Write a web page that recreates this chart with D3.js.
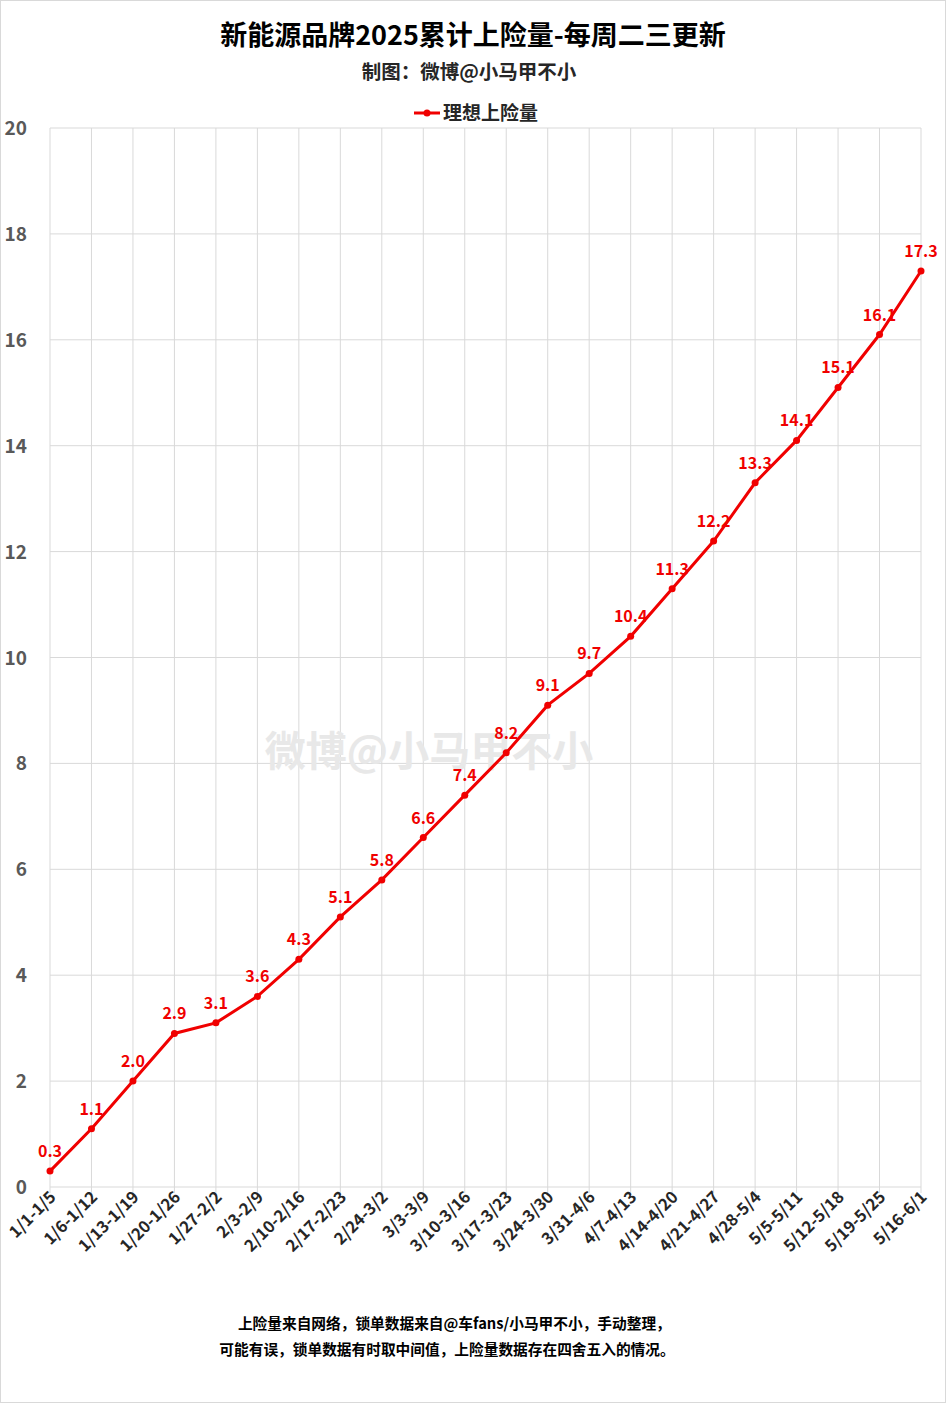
<!DOCTYPE html>
<html><head><meta charset="utf-8">
<script src="https://cdn.jsdelivr.net/npm/d3@7"></script>
<style>body{margin:0;background:#fff}svg{display:block}text{font-family:"Noto Sans CJK SC","Noto Sans",sans-serif}</style>
</head><body>
<script>
const categories = ["1/1-1/5","1/6-1/12","1/13-1/19","1/20-1/26","1/27-2/2","2/3-2/9","2/10-2/16","2/17-2/23","2/24-3/2","3/3-3/9","3/10-3/16","3/17-3/23","3/24-3/30","3/31-4/6","4/7-4/13","4/14-4/20","4/21-4/27","4/28-5/4","5/5-5/11","5/12-5/18","5/19-5/25","5/16-6/1"];
const values = [0.3,1.1,2.0,2.9,3.1,3.6,4.3,5.1,5.8,6.6,7.4,8.2,9.1,9.7,10.4,11.3,12.2,13.3,14.1,15.1,16.1,17.3];
const yTicks = [0,2,4,6,8,10,12,14,16,18,20];
const seriesName = "理想上险量";
const title = "新能源品牌2025累计上险量-每周二三更新";
const subtitle = "制图：微博@小马甲不小";
const notes = ["\u3000上险量来自网络，锁单数据来自@车fans/小马甲不小，手动整理，","可能有误，锁单数据有时取中间值，上险量数据存在四舍五入的情况。"];
const watermark = "微博@小马甲不小";

const W=946,H=1403;
const svg=d3.select("body").append("svg").attr("width",W).attr("height",H);
svg.append("rect").attr("x",0.5).attr("y",0.5).attr("width",W-1).attr("height",H-1).attr("fill","#fff").attr("stroke","#d9d9d9");
const L=50,R=921,T=128,B=1187;
const x=d3.scalePoint().domain(categories).range([L,R]);
const y=d3.scaleLinear().domain([0,20]).range([B,T]);
const red="#f00000";

// grid
svg.append("g").selectAll("line").data(yTicks).join("line")
 .attr("x1",L).attr("x2",R).attr("y1",d=>y(d)).attr("y2",d=>y(d)).attr("stroke","#d9d9d9");
svg.append("g").selectAll("line").data(categories).join("line")
 .attr("x1",d=>x(d)).attr("x2",d=>x(d)).attr("y1",T).attr("y2",B+6).attr("stroke","#d9d9d9");

// y labels
svg.append("g").selectAll("text").data(yTicks).join("text")
 .attr("x",27).attr("y",d=>y(d)+7).attr("text-anchor","end")
 .attr("font-size",19).attr("font-weight","bold").attr("fill","#595959").text(d=>d);

// x labels
svg.append("g").selectAll("text").data(categories).join("text")
 .attr("transform",d=>`translate(${x(d)+7},${B+11}) rotate(-45)`)
 .attr("text-anchor","end").attr("font-size",16.5).attr("font-weight","bold").attr("fill","#262626").text(d=>d);

// watermark
svg.append("text").attr("x",429).attr("y",766).attr("text-anchor","middle")
 .attr("font-size",41).attr("font-weight","bold").attr("fill","#e8e8e8").text(watermark);

// line
const line=d3.line().x((d,i)=>x(categories[i])).y(d=>y(d));
svg.append("path").datum(values).attr("d",line).attr("fill","none").attr("stroke",red).attr("stroke-width",3);
svg.append("g").selectAll("circle").data(values).join("circle")
 .attr("cx",(d,i)=>x(categories[i])).attr("cy",d=>y(d)).attr("r",3.5).attr("fill",red);
svg.append("g").selectAll("text").data(values).join("text")
 .attr("x",(d,i)=>x(categories[i])).attr("y",d=>y(d)-14).attr("text-anchor","middle")
 .attr("font-size",16).attr("font-weight","bold").attr("fill",red).text(d=>d.toFixed(1));

// titles
svg.append("text").attr("x",473).attr("y",45).attr("text-anchor","middle").attr("font-size",27).attr("font-weight","bold").attr("fill","#000").text(title);
svg.append("text").attr("x",469).attr("y",79).attr("text-anchor","middle").attr("font-size",19.5).attr("font-weight","bold").attr("fill","#262626").text(subtitle);
// legend
svg.append("line").attr("x1",414).attr("x2",440).attr("y1",113).attr("y2",113).attr("stroke",red).attr("stroke-width",3);
svg.append("circle").attr("cx",427).attr("cy",113).attr("r",3.5).attr("fill",red);
svg.append("text").attr("x",443).attr("y",120).attr("font-size",19).attr("font-weight","bold").attr("fill","#262626").text(seriesName);
// notes
svg.append("g").selectAll("text").data(notes).join("text")
 .attr("x",447).attr("y",(d,i)=>1329+i*26).attr("text-anchor","middle")
 .attr("font-size",14.7).attr("font-weight","bold").attr("fill","#000").text(d=>d);
</script>
</body></html>
